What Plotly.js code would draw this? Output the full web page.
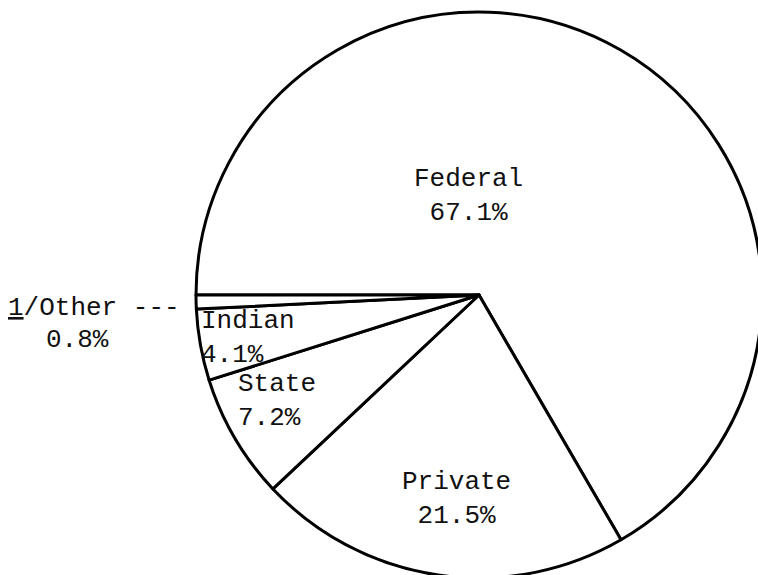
<!DOCTYPE html>
<html>
<head>
<meta charset="utf-8">
<script src="https://cdn.plot.ly/plotly-3.0.1.min.js"></script>
<style>
  html, body { margin: 0; padding: 0; background: #ffffff; overflow: hidden; }
  #wrap { width: 758px; height: 575px; overflow: hidden; position: relative; background: #ffffff; }
  #chart { width: 900px; height: 700px; position: absolute; left: 0; top: 0; }
</style>
</head>
<body>
<div id="wrap"><div id="chart"></div></div>
<script>
// ---- data ----
const categories = ["Federal", "Private", "State", "Indian", "Other"];
const shares = [67.1, 21.5, 7.2, 4.1, 0.8];
const labelPrefix = ["", "", "", "", "<u>1</u>/"];   // footnote marker on "Other"
const percentSuffix = "%";

// ---- layout helpers (figure is larger than the window, so the pie is cropped like the original) ----
const W = 900, H = 700;
const cx = 479, cy = 295, r = 283;
const fx = x => x / W;
const fy = y => 1 - y / H;

const FONT = { family: "'Courier New', 'Liberation Mono', monospace", size: 26, color: "#111111" };

// label placement (pixel positions)
const labelStyle = [
  { x: 468, y: 195.5, xanchor: "center", align: "center" },   // Federal
  { x: 456, y: 499.5, xanchor: "center", align: "center" },   // Private
  { x: 238, y: 401, xanchor: "left", align: "left" },         // State
  { x: 201, y: 337.5, xanchor: "left", align: "left" },       // Indian
];

const annotations = [];
for (let i = 0; i < categories.length; i++) {
  const pct = shares[i].toFixed(1) + percentSuffix;
  if (i < labelStyle.length) {
    const s = labelStyle[i];
    annotations.push({
      xref: "paper", yref: "paper", x: fx(s.x), y: fy(s.y),
      xanchor: s.xanchor, yanchor: "middle", align: s.align,
      text: labelPrefix[i] + categories[i] + "<br>" + pct,
      showarrow: false, font: FONT, borderpad: 0, borderwidth: 0
    });
  } else {
    // "Other" label sits outside the pie, with a dashed leader typed as text
    annotations.push({
      xref: "paper", yref: "paper", x: fx(8), y: fy(307.5),
      xanchor: "left", yanchor: "middle", align: "left",
      text: labelPrefix[i] + categories[i] + " ---",
      showarrow: false, font: FONT, borderpad: 0, borderwidth: 0
    });
    annotations.push({
      xref: "paper", yref: "paper", x: fx(77), y: fy(340),
      xanchor: "center", yanchor: "middle", align: "center",
      text: pct,
      showarrow: false, font: FONT, borderpad: 0, borderwidth: 0
    });
  }
}

const trace = {
  type: "pie",
  labels: categories,
  values: shares,
  sort: false,
  direction: "clockwise",
  rotation: -90,
  textinfo: "none",
  hoverinfo: "none",
  marker: {
    colors: categories.map(() => "#ffffff"),
    line: { color: "#000000", width: 3 }
  },
  domain: { x: [fx(cx - r), fx(cx + r)], y: [fy(cy + r), fy(cy - r)] }
};

const layout = {
  width: W, height: H,
  margin: { l: 0, r: 0, t: 0, b: 0, pad: 0 },
  showlegend: false,
  paper_bgcolor: "#ffffff",
  plot_bgcolor: "#ffffff",
  font: FONT,
  annotations: annotations
};

Plotly.newPlot("chart", [trace], layout, { staticPlot: true, displayModeBar: false });
</script>
</body>
</html>
